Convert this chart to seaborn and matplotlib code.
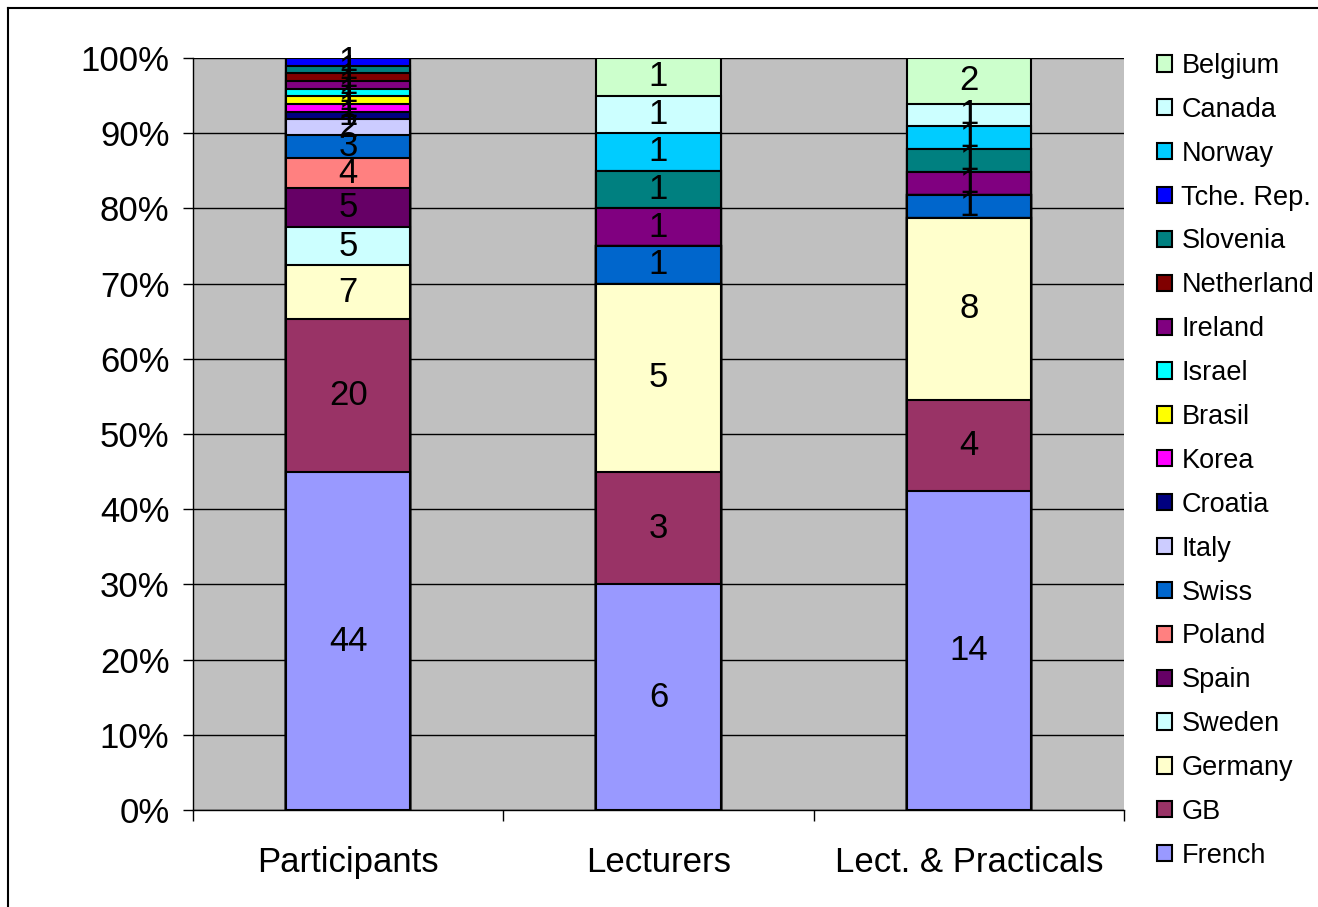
#!/usr/bin/python

import matplotlib
matplotlib.use('Agg')
import matplotlib.pyplot as plt
from matplotlib.patches import Patch
from matplotlib.lines import Line2D
import numpy as np
import pandas as pd
import seaborn as sns

groups = ['Participants', 'Lecturers', 'Lect. & Practicals']

# stacking order, bottom to top
countries = ['French', 'GB', 'Germany', 'Sweden', 'Spain', 'Poland', 'Swiss', 'Italy',
             'Croatia', 'Korea', 'Brasil', 'Israel', 'Ireland', 'Netherland', 'Slovenia',
             'Tche. Rep.', 'Norway', 'Canada', 'Belgium']

participants = [44, 20, 7, 5, 5, 4, 3, 2, 1, 1, 1, 1, 1, 1, 1, 1, 0, 0, 0]
lecturers = [6, 3, 5, 0, 0, 0, 1, 0, 0, 0, 0, 0, 1, 0, 1, 0, 1, 1, 1]
lect_practicals = [14, 4, 8, 0, 0, 0, 1, 0, 0, 0, 0, 0, 1, 0, 1, 0, 1, 1, 2]

colors = ['#9999FF', '#993366', '#FFFFCC', '#CCFFFF', '#660066', '#FF8080', '#0066CC',
          '#CCCCFF', '#000080', '#FF00FF', '#FFFF00', '#00FFFF', '#800080', '#800000',
          '#008080', '#0000FF', '#00CCFF', '#CCFFFF', '#CCFFCC']

counts = np.array([participants, lecturers, lect_practicals], dtype=float)
shares = counts / counts.sum(axis=1, keepdims=True)
cum = np.cumsum(shares, axis=1)

rows = []
for gi, g in enumerate(groups):
    for ci, c in enumerate(countries):
        rows.append((g, c, counts[gi, ci], shares[gi, ci], cum[gi, ci]))
df = pd.DataFrame(rows, columns=['group', 'country', 'count', 'share', 'cum'])

plt.rcParams['font.family'] = ['Liberation Sans', 'DejaVu Sans']

fig = plt.figure(figsize=(13.18, 9.07), dpi=100)
ax = fig.add_axes([193 / 1318, 1 - 810 / 907, 931 / 1318, 752 / 907])
ax.set_facecolor('#C0C0C0')

# draw cumulative bars from the top of the stack down so lower ones cover upper ones
for ci in range(len(countries) - 1, -1, -1):
    sub = df[df['country'] == countries[ci]]
    sns.barplot(data=sub, x='group', y='cum', order=groups, color=colors[ci],
                saturation=1, edgecolor='black', linewidth=1.5, width=0.4, ax=ax,
                errorbar=None, zorder=3)

for _, r in df.iterrows():
    if r['count'] > 0:
        gi = groups.index(r['group'])
        ax.text(gi, r['cum'] - r['share'] / 2, '%d' % r['count'], ha='center',
                va='center', fontsize=25, zorder=5)

ax.set_xlim(-0.5, 2.5)
ax.set_ylim(0, 1)
ax.set_yticks(np.arange(0, 1.01, 0.1))
ax.set_yticklabels(['%d%%' % round(v * 100) for v in np.arange(0, 1.01, 0.1)])
ax.yaxis.grid(True, color='black', linewidth=1)
ax.set_axisbelow(True)
ax.set_xticks([-0.5, 0.5, 1.5, 2.5], minor=True)
ax.tick_params(axis='x', which='major', length=0, pad=26, labelsize=25)
ax.tick_params(axis='x', which='minor', length=8, width=1, direction='out')
ax.tick_params(axis='y', length=7, width=1, direction='out', pad=10, labelsize=25)
ax.set(xlabel=None, ylabel=None)

for axis in ['top', 'right']:
    ax.spines[axis].set_visible(False)
for axis in ['bottom', 'left']:
    ax.spines[axis].set_linewidth(1.0)
    ax.spines[axis].set_color('black')

handles = [Patch(facecolor=colors[i], edgecolor='black', linewidth=1.5, label=countries[i])
           for i in range(len(countries) - 1, -1, -1)]
fig.legend(handles=handles, loc='upper left', bbox_to_anchor=(1157 / 1318, 1 - 53 / 907),
           frameon=False, fontsize=19.5, handlelength=0.55, handleheight=0.55,
           handletextpad=0.35, labelspacing=0.66, borderaxespad=0, borderpad=0)

# chart border
fig.add_artist(Line2D([8 / 1318, 8 / 1318], [0, 1 - 8 / 907], transform=fig.transFigure,
                      color='black', linewidth=1.5))
fig.add_artist(Line2D([8 / 1318, 1], [1 - 8 / 907, 1 - 8 / 907], transform=fig.transFigure,
                      color='black', linewidth=1.5))

plt.savefig('out.png', dpi=100)
